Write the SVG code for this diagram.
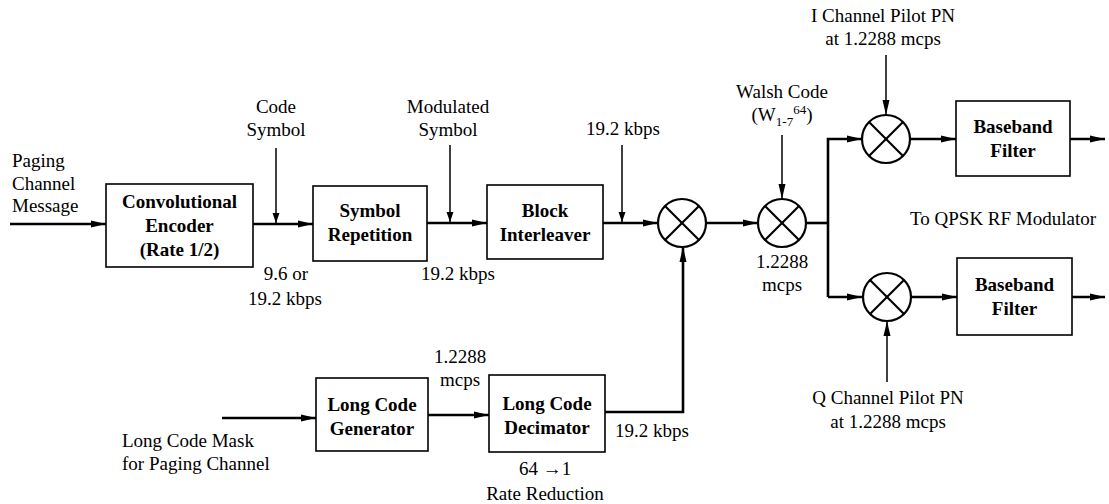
<svg xmlns="http://www.w3.org/2000/svg" width="1109" height="504" viewBox="0 0 1109 504">
<style>
text{font-family:"Liberation Serif","Times New Roman",serif;font-size:19px;fill:#000}
.b{font-weight:bold}
.c{text-anchor:middle}
.box{fill:#fff;stroke:#000;stroke-width:1.6}
.mix{fill:#fff;stroke:#000;stroke-width:2.2}
.x{stroke:#000;stroke-width:2.2}
.w{fill:none;stroke:#000;stroke-width:2.6}
.t{fill:none;stroke:#000;stroke-width:1.5}
</style>
<defs>
<marker id="ah" markerWidth="15" markerHeight="10" refX="15" refY="5" orient="auto" markerUnits="userSpaceOnUse"><path d="M0,1.5 L15,5 L0,8.5 z" fill="#000"/></marker>
<marker id="as" markerWidth="10" markerHeight="8" refX="10" refY="4" orient="auto" markerUnits="userSpaceOnUse"><path d="M0,0.5 L10,4 L0,7.5 z" fill="#000"/></marker>
</defs>
<g id="connectors">
<line class="w" x1="10" y1="224" x2="106" y2="224" marker-end="url(#ah)"/>
<line class="w" x1="253" y1="224" x2="313" y2="224" marker-end="url(#ah)"/>
<line class="t" x1="276" y1="148" x2="276" y2="223" marker-end="url(#as)"/>
<line class="w" x1="427" y1="223" x2="487" y2="223" marker-end="url(#ah)"/>
<line class="t" x1="450" y1="145" x2="450" y2="222" marker-end="url(#as)"/>
<line class="w" x1="603" y1="223" x2="658" y2="223" marker-end="url(#ah)"/>
<line class="t" x1="622" y1="145" x2="622" y2="222" marker-end="url(#as)"/>
<line class="w" x1="706" y1="223" x2="758" y2="223" marker-end="url(#ah)"/>
<line class="t" x1="782" y1="135" x2="782" y2="199" marker-end="url(#ah)"/>
<polyline class="w" points="806,223 828,223"/>
<polyline class="w" points="828,297 828,139 862,139" marker-end="url(#ah)"/>
<polyline class="w" points="828,297 862,297" marker-end="url(#ah)"/>
<line class="t" x1="886" y1="55" x2="886" y2="115" marker-end="url(#ah)"/>
<line class="t" x1="887" y1="382" x2="887" y2="321" marker-end="url(#ah)"/>
<line class="w" x1="910" y1="139" x2="956" y2="139" marker-end="url(#ah)"/>
<line class="w" x1="911" y1="297" x2="957" y2="297" marker-end="url(#ah)"/>
<line class="w" x1="1070" y1="139" x2="1105" y2="139" marker-end="url(#ah)"/>
<line class="w" x1="1072" y1="297" x2="1105" y2="297" marker-end="url(#ah)"/>
<line class="w" x1="222" y1="418" x2="316" y2="418" marker-end="url(#ah)"/>
<line class="w" x1="428" y1="415" x2="489" y2="415" marker-end="url(#ah)"/>
<polyline class="w" points="605,412 683,412 683,247" marker-end="url(#ah)"/>
</g>
<g id="conv-encoder">
<rect class="box" x="106" y="184" width="147" height="83"/>
<text class="b c" x="179.5" y="208">Convolutional</text>
<text class="b c" x="179.5" y="232">Encoder</text>
<text class="b c" x="179.5" y="256">(Rate 1/2)</text>
</g>
<g id="symbol-repetition">
<rect class="box" x="313" y="186" width="114" height="75"/>
<text class="b c" x="370" y="217">Symbol</text>
<text class="b c" x="370" y="241">Repetition</text>
</g>
<g id="block-interleaver">
<rect class="box" x="487" y="185" width="116" height="74"/>
<text class="b c" x="545" y="217">Block</text>
<text class="b c" x="545" y="241">Interleaver</text>
</g>
<g id="mixer1">
<circle class="mix" cx="682" cy="223" r="24"/>
<line class="x" x1="665" y1="206" x2="699" y2="240"/>
<line class="x" x1="699" y1="206" x2="665" y2="240"/>
</g>
<g id="mixer2">
<circle class="mix" cx="782" cy="223" r="24"/>
<line class="x" x1="765" y1="206" x2="799" y2="240"/>
<line class="x" x1="799" y1="206" x2="765" y2="240"/>
</g>
<g id="mixer-i">
<circle class="mix" cx="886" cy="139" r="24"/>
<line class="x" x1="869" y1="122" x2="903" y2="156"/>
<line class="x" x1="903" y1="122" x2="869" y2="156"/>
</g>
<g id="mixer-q">
<circle class="mix" cx="887" cy="297" r="24"/>
<line class="x" x1="870" y1="280" x2="904" y2="314"/>
<line class="x" x1="904" y1="280" x2="870" y2="314"/>
</g>
<g id="baseband-i">
<rect class="box" x="956" y="101" width="114" height="75"/>
<text class="b c" x="1013" y="133">Baseband</text>
<text class="b c" x="1013" y="157">Filter</text>
</g>
<g id="baseband-q">
<rect class="box" x="957" y="258" width="115" height="77"/>
<text class="b c" x="1014.5" y="291">Baseband</text>
<text class="b c" x="1014.5" y="315">Filter</text>
</g>
<g id="long-code-generator">
<rect class="box" x="316" y="378" width="112" height="73"/>
<text class="b c" x="372" y="411">Long Code</text>
<text class="b c" x="372" y="435">Generator</text>
</g>
<g id="long-code-decimator">
<rect class="box" x="489" y="375" width="116" height="77"/>
<text class="b c" x="547" y="410">Long Code</text>
<text class="b c" x="547" y="434">Decimator</text>
</g>
<g id="labels">
<text x="12" y="167">Paging</text>
<text x="12" y="190">Channel</text>
<text x="12" y="212">Message</text>
<text class="c" x="276" y="113">Code</text>
<text class="c" x="276" y="136">Symbol</text>
<text class="c" x="448" y="113">Modulated</text>
<text class="c" x="448" y="136">Symbol</text>
<text class="c" x="623" y="135">19.2 kbps</text>
<text class="c" x="286" y="280">9.6 or</text>
<text class="c" x="285" y="305">19.2 kbps</text>
<text class="c" x="458" y="280">19.2 kbps</text>
<text class="c" x="782" y="98">Walsh Code</text>
<text class="c" x="782" y="121">(W<tspan font-size="13" dy="5">1-7</tspan><tspan font-size="13" dy="-12">64</tspan><tspan dy="7">)</tspan></text>
<text class="c" x="883" y="22">I Channel Pilot PN</text>
<text class="c" x="883" y="45">at 1.2288 mcps</text>
<text class="c" x="782" y="268">1.2288</text>
<text class="c" x="782" y="291">mcps</text>
<text x="910" y="225">To QPSK RF Modulator</text>
<text class="c" x="888" y="404">Q Channel Pilot PN</text>
<text class="c" x="888" y="428">at 1.2288 mcps</text>
<text x="122" y="447">Long Code Mask</text>
<text x="122" y="470">for Paging Channel</text>
<text class="c" x="460" y="363">1.2288</text>
<text class="c" x="460" y="386">mcps</text>
<text x="615" y="437">19.2 kbps</text>
<text class="c" x="545" y="475">64 →1</text>
<text class="c" x="545" y="500">Rate Reduction</text>
</g>
</svg>
